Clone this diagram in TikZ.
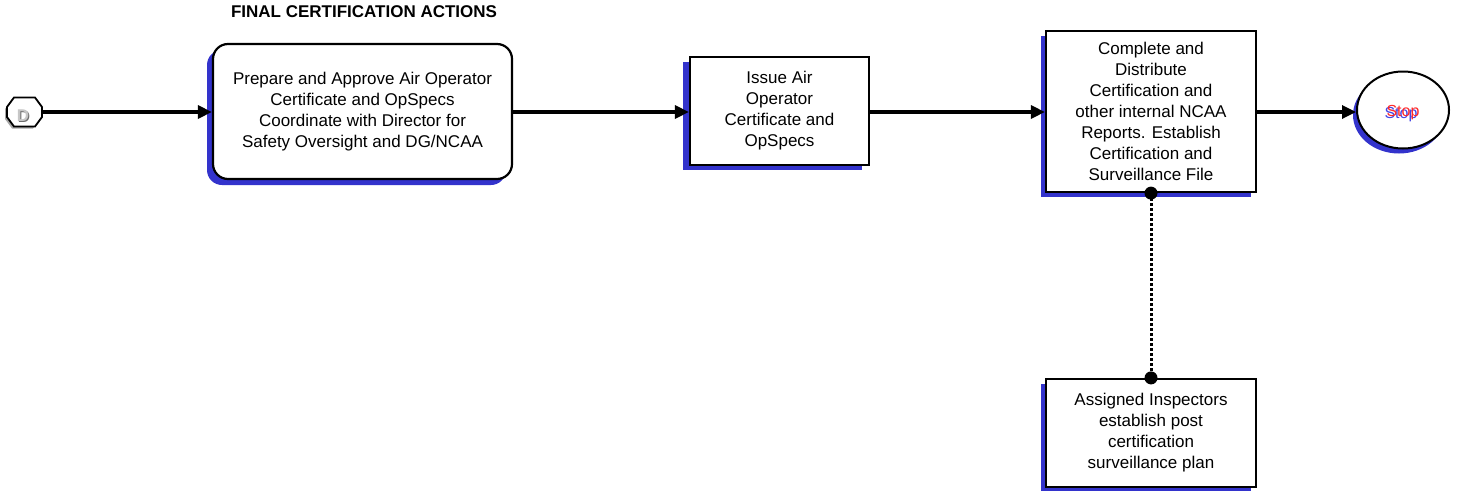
\documentclass[tikz,border=0pt]{standalone}
\usepackage{fontspec}
\setmainfont{Liberation Sans}
\usetikzlibrary{shapes.geometric,shadows,arrows.meta,calc}
\definecolor{shblue}{RGB}{51,51,204}
\definecolor{stopred}{RGB}{255,40,40}
\definecolor{stopblue}{RGB}{70,70,230}
\tikzset{
  boxbase/.style={draw, line width=2.2pt, fill=white, align=center, inner sep=0pt,
    font=\fontsize{17}{21}\selectfont},
  sqbox/.style={boxbase, rectangle},
  rbox/.style={boxbase, rounded corners=15pt},
  flow/.style={line width=3.2pt, -{Triangle[length=14pt,width=13pt]}},
  dotline/.style={line width=3pt, dash pattern=on 3pt off 2pt},
}
\begin{document}
\begin{tikzpicture}[x=1pt,y=-1pt]
\useasboundingbox (0,0) rectangle (1458,490);
\node[font=\bfseries\fontsize{17}{20}\selectfont] (title) at (364,12) {FINAL CERTIFICATION ACTIONS};
% start octagon
\node[minimum width=35pt, minimum height=30pt, inner sep=0pt] (D) at (24.5,112) {};
\fill[gray!70] ($(D.center)+(-19.5,-3)$) -- ++(7,-9.5) -- ++(21,0) -- ++(7,9.5) -- ++(0,10) -- ++(-7,9.5) -- ++(-21,0) -- ++(-7,-9.5) -- cycle;
\draw[line width=1.8pt, fill=white] ($(D.center)+(-17.5,-5)$) -- ++(7,-9.5) -- ++(21,0) -- ++(7,9.5) -- ++(0,10) -- ++(-7,9.5) -- ++(-21,0) -- ++(-7,-9.5) -- cycle;
\node[font=\bfseries\fontsize{17}{17}\selectfont, text=gray!85!black] (Dsh) at (24,116.2) {D};
\node[font=\bfseries\fontsize{17}{17}\selectfont, text=gray!45] (Dlab) at (23,115.2) {D};
% boxes
\node[rbox, minimum width=299pt, minimum height=135pt,
  general shadow={fill=shblue, shadow xshift=-6pt, shadow yshift=-6pt}] (b1) at (362.5,111.5)
  {\fontsize{17}{20}\selectfont Prepare and Approve Air Operator\\Certificate and OpSpecs\\Coordinate with Director for\\Safety Oversight and DG/NCAA};
\node[sqbox, minimum width=179pt, minimum height=108pt,
  general shadow={fill=shblue, shadow xshift=-7pt, shadow yshift=-5pt}] (b2) at (779.5,111)
  {Issue Air\\Operator\\Certificate and\\OpSpecs};
\node[sqbox, minimum width=210pt, minimum height=161pt,
  general shadow={fill=shblue, shadow xshift=-5pt, shadow yshift=-5pt}] (b3) at (1151,111.5)
  {Complete and\\Distribute\\Certification and\\other internal NCAA\\Reports. Establish\\Certification and\\Surveillance File};
\node[sqbox, minimum width=210pt, minimum height=108pt,
  general shadow={fill=shblue, shadow xshift=-5pt, shadow yshift=-5pt}] (b4) at (1151,433)
  {Assigned Inspectors\\establish post\\certification\\surveillance plan};
% stop
\node[ellipse, draw, line width=2pt, fill=white, minimum width=92pt, minimum height=77pt, inner sep=0pt,
  general shadow={fill=shblue, shadow xshift=-4pt, shadow yshift=-5pt}] (stop) at (1403,110) {};
\node[font=\fontsize{16}{16}\selectfont, text=stopblue] (stopb) at (1401,115) {Stop};
\node[font=\fontsize{16}{16}\selectfont, text=stopred] (stopr) at (1403,112.5) {Stop};
% connectors
\draw[flow] (D.east) -- (b1.west |- D.east);
\draw[flow] (b1.east |- D.east) -- (b2.west |- D.east);
\draw[flow] (b2.east |- D.east) -- (b3.west |- D.east);
\draw[flow] (b3.east |- D.east) -- (stop.west |- D.east);
\draw[dotline] (b3.south) -- (b4.north);
\fill (b3.south) circle (6.5pt);
\fill (b4.north) circle (6.5pt);
\end{tikzpicture}
\end{document}
